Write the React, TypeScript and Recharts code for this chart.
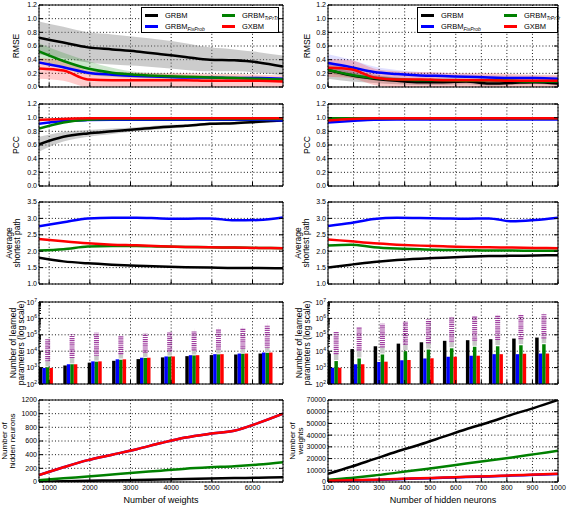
import React from 'react';
import { ComposedChart, Line, Area, Bar, XAxis, YAxis, CartesianGrid, ErrorBar } from 'recharts';

// x positions of the samples
const weightsX = [750, 1350, 1950, 2550, 3150, 3750, 4350, 4950, 5550, 6150, 6750];
const neuronsX = [100, 190, 280, 370, 460, 550, 640, 730, 820, 910, 1000];
// bar group centres
const weightsBarX = [925, 1525, 2125, 2725, 3325, 3925, 4525, 5125, 5725, 6325];
const neuronsBarX = [127, 217, 308, 398, 488, 579, 669, 759, 850, 940];

// ticks
const weightTicks = [1000, 2000, 3000, 4000, 5000, 6000];
const neuronTicks = [100, 200, 300, 400, 500, 600, 700, 800, 900, 1000];
const unitTicks = [0, 0.2, 0.4, 0.6, 0.8, 1.0, 1.2];
const pathTicks = [1.0, 1.5, 2.0, 2.5, 3.0, 3.5];
const logTicks = [1e2, 1e3, 1e4, 1e5, 1e6, 1e7];
const logMinor = [
  200, 300, 400, 500, 600, 700, 800, 900,
  2e3, 3e3, 4e3, 5e3, 6e3, 7e3, 8e3, 9e3,
  2e4, 3e4, 4e4, 5e4, 6e4, 7e4, 8e4, 9e4,
  2e5, 3e5, 4e5, 5e5, 6e5, 7e5, 8e5, 9e5,
  2e6, 3e6, 4e6, 5e6, 6e6, 7e6, 8e6, 9e6,
];
const hiddenTicks = [0, 200, 400, 600, 800, 1000, 1200];
const weightCountTicks = [0, 10000, 20000, 30000, 40000, 50000, 60000, 70000];

// RMSE vs number of weights
const wRmseGrbm = [0.72, 0.65, 0.58, 0.55, 0.52, 0.48, 0.44, 0.40, 0.39, 0.36, 0.30];
const wRmseGrbmBand = [[0.48, 0.96], [0.42, 0.88], [0.36, 0.80], [0.33, 0.77], [0.31, 0.73], [0.28, 0.69], [0.25, 0.64], [0.23, 0.58], [0.23, 0.55], [0.21, 0.51], [0.17, 0.46]];
const wRmseFix = [0.36, 0.29, 0.21, 0.18, 0.16, 0.15, 0.14, 0.14, 0.13, 0.13, 0.12];
const wRmseTr = [0.52, 0.38, 0.27, 0.21, 0.18, 0.16, 0.15, 0.14, 0.13, 0.12, 0.11];
const wRmseTrBand = [[0.40, 0.64], [0.27, 0.50], [0.18, 0.38], [0.15, 0.28], [0.13, 0.22], [0.12, 0.20], [0.11, 0.18], [0.10, 0.17], [0.10, 0.16], [0.09, 0.15], [0.08, 0.14]];
const wRmseGx = [0.27, 0.24, 0.11, 0.10, 0.10, 0.10, 0.10, 0.09, 0.09, 0.09, 0.08];
const wRmseGxBand = [[0.12, 0.42], [0.09, 0.39], [0.0, 0.24], [0.0, 0.22], [0.0, 0.21], [0.0, 0.20], [0.0, 0.20], [0.0, 0.19], [0.0, 0.19], [0.0, 0.18], [0.0, 0.17]];

// RMSE vs number of hidden neurons
const nRmseGrbm = [0.25, 0.17, 0.12, 0.09, 0.07, 0.07, 0.08, 0.05, 0.06, 0.07, 0.05];
const nRmseGrbmBand = [[0.12, 0.38], [0.08, 0.26], [0.06, 0.18], [0.04, 0.14], [0.03, 0.11], [0.03, 0.11], [0.04, 0.12], [0.02, 0.08], [0.03, 0.09], [0.04, 0.10], [0.02, 0.08]];
const nRmseFix = [0.35, 0.29, 0.22, 0.19, 0.17, 0.16, 0.15, 0.14, 0.13, 0.13, 0.12];
const nRmseFixBand = [[0.22, 0.48], [0.19, 0.40], [0.14, 0.30], [0.13, 0.25], [0.12, 0.22], [0.11, 0.21], [0.11, 0.19], [0.10, 0.18], [0.09, 0.17], [0.09, 0.17], [0.08, 0.16]];
const nRmseTr = [0.25, 0.18, 0.13, 0.11, 0.10, 0.10, 0.09, 0.10, 0.09, 0.08, 0.08];
const nRmseTrBand = [[0.20, 0.30], [0.14, 0.22], [0.10, 0.16], [0.08, 0.14], [0.07, 0.13], [0.07, 0.13], [0.06, 0.12], [0.07, 0.13], [0.06, 0.12], [0.05, 0.11], [0.05, 0.11]];
const nRmseGx = [0.28, 0.26, 0.14, 0.11, 0.11, 0.10, 0.10, 0.10, 0.09, 0.09, 0.09];
const nRmseGxBand = [[0.15, 0.41], [0.13, 0.39], [0.03, 0.27], [0.0, 0.23], [0.0, 0.22], [0.0, 0.21], [0.0, 0.20], [0.0, 0.20], [0.0, 0.19], [0.0, 0.18], [0.0, 0.18]];

// PCC
const wPccGrbm = [0.61, 0.72, 0.77, 0.80, 0.83, 0.86, 0.88, 0.91, 0.92, 0.94, 0.96];
const wPccGrbmBand = [[0.50, 0.72], [0.65, 0.79], [0.72, 0.82], [0.76, 0.84], [0.80, 0.86], [0.83, 0.89], [0.86, 0.90], [0.89, 0.93], [0.90, 0.94], [0.92, 0.96], [0.94, 0.98]];
const wPccFix = [0.91, 0.95, 0.965, 0.97, 0.97, 0.97, 0.97, 0.97, 0.97, 0.97, 0.96];
const wPccTr = [0.84, 0.93, 0.97, 0.98, 0.98, 0.98, 0.98, 0.98, 0.98, 0.98, 0.98];
const wPccGx = [0.965, 0.98, 0.99, 0.99, 0.99, 0.99, 0.99, 0.99, 0.99, 0.99, 0.99];
const nPccGrbm = [0.98, 0.985, 0.99, 0.99, 0.99, 0.99, 0.99, 0.99, 0.99, 0.99, 0.99];
const nPccFix = [0.93, 0.95, 0.97, 0.975, 0.975, 0.975, 0.975, 0.975, 0.975, 0.975, 0.975];
const nPccTr = [0.99, 0.99, 0.99, 0.99, 0.99, 0.99, 0.99, 0.99, 0.99, 0.99, 0.99];
const nPccGx = [0.96, 0.98, 0.99, 0.99, 0.99, 0.99, 0.99, 0.99, 0.99, 0.99, 0.99];

// average shortest path
const wAspGrbm = [1.80, 1.69, 1.63, 1.59, 1.56, 1.53, 1.51, 1.50, 1.49, 1.49, 1.48];
const wAspFix = [2.76, 2.88, 3.0, 3.02, 3.02, 3.0, 2.99, 3.0, 2.94, 2.95, 3.03];
const wAspTr = [2.02, 2.06, 2.14, 2.16, 2.16, 2.14, 2.13, 2.12, 2.11, 2.10, 2.09];
const wAspGx = [2.37, 2.30, 2.24, 2.20, 2.18, 2.15, 2.13, 2.12, 2.11, 2.10, 2.09];
const nAspGrbm = [1.50, 1.59, 1.67, 1.73, 1.77, 1.80, 1.83, 1.85, 1.86, 1.87, 1.88];
const nAspFix = [2.77, 2.86, 2.98, 3.02, 3.01, 3.0, 2.99, 3.0, 2.91, 2.95, 3.02];
const nAspTr = [2.17, 2.20, 2.12, 2.08, 2.06, 2.04, 2.03, 2.02, 2.02, 2.01, 2.01];
const nAspGx = [2.36, 2.30, 2.24, 2.20, 2.17, 2.15, 2.13, 2.12, 2.11, 2.10, 2.09];

// learned parameters (bars), fixed number of weights
const wParGrbm = [1000, 1350, 2000, 2600, 3300, 4200, 5000, 5800, 6300, 7200];
const wParFix = [950, 1600, 2400, 3200, 4000, 4800, 5700, 6600, 7200, 8300];
const wParTr = [1050, 1600, 2300, 3000, 3900, 4700, 5500, 6400, 7000, 8000];
const wParGx = [950, 1600, 2400, 3200, 4000, 4800, 5700, 6600, 7200, 8300];
const wParGrayLo = [1200, 1800, 2700, 3600, 4500, 5400, 6300, 7300, 8000, 9200];
const wParDenseLo = [2400, 3800, 5200, 6500, 8000, 9500, 11000, 12500, 14000, 16000];
const wParDenseHi = [59000, 105000, 138000, 95000, 115000, 145000, 173000, 210000, 265000, 380000];

// learned parameters (bars), fixed number of hidden neurons
const nParGrbm = [7200, 13500, 20000, 29000, 35000, 43000, 47000, 54000, 59000, 68000];
const nParFix = [980, 1600, 2200, 2800, 3600, 4600, 5300, 6600, 6600, 7200];
const nParTr = [2500, 3600, 6300, 10000, 12600, 15000, 18600, 20000, 23000, 27000];
const nParGx = [980, 1600, 2300, 2900, 3700, 4600, 5300, 6600, 7000, 7200];
const nParGrayLo = [2900, 4200, 7300, 11500, 14500, 17500, 21500, 23500, 27000, 31000];
const nParDenseLo = [6500, 11000, 17000, 25000, 31000, 38000, 43000, 48000, 53000, 60000];
const nParDenseHi = [166000, 300000, 480000, 670000, 850000, 1200000, 1350000, 1500000, 1700000, 1800000];

// hidden neurons vs weights, weights vs hidden neurons
const wHidGrbm = [5, 11, 17, 23, 30, 36, 43, 50, 57, 64, 70];
const wHidFix = [100, 215, 320, 400, 480, 570, 650, 705, 750, 865, 1000];
const wHidTr = [25, 55, 80, 110, 140, 165, 195, 215, 230, 255, 290];
const wHidGx = [100, 215, 320, 400, 480, 570, 650, 705, 750, 865, 1000];
const nWGrbm = [7000, 13000, 19500, 26000, 32000, 38500, 45000, 51000, 57500, 63500, 70000];
const nWFix = [800, 1300, 1800, 2400, 3000, 3600, 4200, 4800, 5500, 6100, 6800];
const nWTr = [2000, 3500, 5500, 8000, 10500, 13000, 15700, 18300, 21000, 23800, 26600];
const nWGx = [1000, 1500, 2000, 2600, 3200, 3800, 4400, 5000, 5700, 6300, 7000];

const K = '#000000';
const B = '#0000ff';
const G = '#008000';
const R = '#ff0000';
const FONT = "'Liberation Sans', Arial, Helvetica, sans-serif";

const PLOT_H = 82;
const ROW_TOP = [5, 104, 202, 302, 400];
const COLS = [{ x: 39, w: 244 }, { x: 328, w: 230 }];
const AXIS_W = 40;
const PAD_T = 5;
const PAD_R = 10;

const table = (xs: number[], cols: Record<string, unknown[]>) =>
  xs.map((x, i) => {
    const r: Record<string, unknown> = { x };
    Object.keys(cols).forEach((k) => (r[k] = cols[k][i]));
    return r;
  });

const curve = (key: string, color: string) => (
  <Line key={key} dataKey={key} type="monotone" stroke={color} strokeWidth={2.5} dot={false} activeDot={false} isAnimationActive={false} />
);
const band = (key: string, color: string, op: number) => (
  <Area key={key} dataKey={key} type="monotone" stroke="none" fill={color} fillOpacity={op} dot={false} activeDot={false} isAnimationActive={false} />
);

// tick labels hidden, tick marks (and grid lines) kept
const NoLabel = () => <g />;

const PowTick = (p: any) => (
  <text x={p.x} y={p.y} dy={2.5} textAnchor="end" fontSize={7} fill="#000">
    10<tspan dy={-3} fontSize={5}>{Math.round(Math.log10(p.payload.value))}</tspan>
  </text>
);

type PanelProps = {
  col: number;
  row: number;
  data: Record<string, unknown>[];
  xDomain: [number, number];
  xTicks: number[];
  yDomain: [number, number];
  yTicks: number[];
  yFmt?: (v: number) => string;
  log?: boolean;
  showX?: boolean;
  children: React.ReactNode;
};

function Panel({ col, row, data, xDomain, xTicks, yDomain, yTicks, yFmt, log, showX, children }: PanelProps) {
  const c = COLS[col];
  // axes need a non-zero size to be drawn
  const xh = showX ? 16 : 1;
  const padB = showX ? 6 : 5;
  return (
    <div style={{ position: 'absolute', left: c.x - AXIS_W, top: ROW_TOP[row] - PAD_T }}>
      <ComposedChart
        width={AXIS_W + c.w + PAD_R}
        height={PAD_T + PLOT_H + xh + padB}
        data={data}
        margin={{ top: PAD_T - 1, right: PAD_R - 1, bottom: padB, left: 0 }}
        barGap={0}
        barSize={3.5}
      >
        <CartesianGrid stroke="#000" strokeWidth={0.9} strokeDasharray="1 2.2" />
        <XAxis dataKey="x" type="number" domain={xDomain} ticks={xTicks} interval={0} allowDataOverflow
          height={xh} tick={showX ? { fontSize: 7, fill: '#000' } : NoLabel} tickSize={-4} tickMargin={7} stroke="#000" />
        <XAxis xAxisId="t" orientation="top" type="number" domain={xDomain} ticks={xTicks} interval={0} allowDataOverflow
          height={1} tick={NoLabel} tickSize={-4} stroke="#000" />
        {log && (
          <YAxis yAxisId="mn" type="number" scale="log" domain={yDomain} ticks={logMinor} interval={0} allowDataOverflow
            mirror width={1} tick={NoLabel} tickSize={2} axisLine={false} stroke="#000" />
        )}
        <YAxis type="number" scale={log ? 'log' : 'linear'} domain={yDomain} ticks={yTicks} interval={0} allowDataOverflow
          width={AXIS_W} tick={log ? PowTick : { fontSize: 7, fill: '#000' }} tickFormatter={yFmt} tickSize={-4} tickMargin={6} stroke="#000" />
        <YAxis yAxisId="r" orientation="right" type="number" scale={log ? 'log' : 'linear'} domain={yDomain} ticks={yTicks}
          interval={0} allowDataOverflow width={1} tick={NoLabel} tickSize={-4} stroke="#000" />
        {children}
      </ComposedChart>
    </div>
  );
}

const lineSet = () => [curve('k', K), curve('b', B), curve('g', G), curve('r', R)];

const barSet = () => {
  const grayErr = (d: any) => {
    const p = d.payload ?? d;
    return [p.g - p.gl, p.pl - p.g];
  };
  const denseErr = (d: any) => {
    const p = d.payload ?? d;
    return [p.g - p.pl, p.ph - p.g];
  };
  return [
    <Bar key="k" dataKey="k" fill={K} isAnimationActive={false} />,
    <Bar key="b" dataKey="b" fill={B} isAnimationActive={false} />,
    <Bar key="g" dataKey="g" fill={G} isAnimationActive={false}>
      <ErrorBar dataKey={grayErr} direction="y" width={0} stroke="#c8c8c8" strokeWidth={4.5} isAnimationActive={false} />
      <ErrorBar dataKey={denseErr} direction="y" width={0} stroke="#800080" strokeOpacity={0.75} strokeWidth={5}
        strokeDasharray="1.2 0.9" isAnimationActive={false} />
    </Bar>,
    <Bar key="r" dataKey="r" fill={R} isAnimationActive={false} />,
  ];
};

const fmt1 = (v: number) => v.toFixed(1);
const fmt0 = (v: number) => String(v);

function YTitle({ x, y, lines, size = 8.5 }: { x: number; y: number; lines: string[]; size?: number }) {
  return (
    <div style={{
      position: 'absolute', left: x, top: y, transform: 'translate(-50%, -50%) rotate(-90deg)',
      whiteSpace: 'nowrap', textAlign: 'center', fontSize: size, lineHeight: '8px',
    }}>
      {lines.map((l) => <div key={l}>{l}</div>)}
    </div>
  );
}

const legendItems = [
  { label: 'GRBM', sub: '', color: K },
  { label: 'GRBM', sub: 'FixProb', color: B },
  { label: 'GRBM', sub: 'TrPrTr', color: G },
  { label: 'GXBM', sub: '', color: R },
];

function LegendBox({ left, width, colX }: { left: number; width: number; colX: number }) {
  return (
    <div style={{ position: 'absolute', left, top: 7, width, height: 26, border: '1px solid #000', background: '#fff', boxSizing: 'border-box' }}>
      {legendItems.map((it, i) => {
        const cx = i < 2 ? 3 : colX;
        const cy = i % 2 === 0 ? 7.5 : 18.5;
        return (
          <React.Fragment key={i}>
            <div style={{ position: 'absolute', left: cx, top: cy - 1.25, width: 13, height: 2.5, background: it.color }} />
            <div style={{ position: 'absolute', left: cx + 20, top: cy - 5, fontSize: 7.5, lineHeight: '10px', whiteSpace: 'nowrap' }}>
              {it.label}
              {it.sub && <span style={{ fontSize: 5, fontStyle: 'italic', verticalAlign: '-2px' }}>{it.sub}</span>}
            </div>
          </React.Fragment>
        );
      })}
    </div>
  );
}

export default function App() {
  const wDom: [number, number] = [750, 6750];
  const nDom: [number, number] = [100, 1000];
  const rmseW = table(weightsX, { k: wRmseGrbm, kb: wRmseGrbmBand, b: wRmseFix, g: wRmseTr, gb: wRmseTrBand, r: wRmseGx, rb: wRmseGxBand });
  const rmseN = table(neuronsX, { k: nRmseGrbm, kb: nRmseGrbmBand, b: nRmseFix, bb: nRmseFixBand, g: nRmseTr, gb: nRmseTrBand, r: nRmseGx, rb: nRmseGxBand });
  const pccW = table(weightsX, { k: wPccGrbm, kb: wPccGrbmBand, b: wPccFix, g: wPccTr, r: wPccGx });
  const pccN = table(neuronsX, { k: nPccGrbm, b: nPccFix, g: nPccTr, r: nPccGx });
  const aspW = table(weightsX, { k: wAspGrbm, b: wAspFix, g: wAspTr, r: wAspGx });
  const aspN = table(neuronsX, { k: nAspGrbm, b: nAspFix, g: nAspTr, r: nAspGx });
  const parW = table(weightsBarX, { k: wParGrbm, b: wParFix, g: wParTr, r: wParGx, gl: wParGrayLo, pl: wParDenseLo, ph: wParDenseHi });
  const parN = table(neuronsBarX, { k: nParGrbm, b: nParFix, g: nParTr, r: nParGx, gl: nParGrayLo, pl: nParDenseLo, ph: nParDenseHi });
  const hidW = table(weightsX, { k: wHidGrbm, b: wHidFix, g: wHidTr, r: wHidGx });
  const wN = table(neuronsX, { k: nWGrbm, b: nWFix, g: nWTr, r: nWGx });

  return (
    <div style={{ position: 'absolute', left: 0, top: 0, width: 568, height: 506, background: '#fff', fontFamily: FONT, color: '#000', overflow: 'hidden' }}>
      <Panel col={0} row={0} data={rmseW} xDomain={wDom} xTicks={weightTicks} yDomain={[0, 1.2]} yTicks={unitTicks} yFmt={fmt1}>
        {[band('kb', '#808080', 0.4), band('gb', G, 0.2), band('rb', R, 0.2), ...lineSet()]}
      </Panel>
      <Panel col={1} row={0} data={rmseN} xDomain={nDom} xTicks={neuronTicks} yDomain={[0, 1.2]} yTicks={unitTicks} yFmt={fmt1}>
        {[band('kb', '#808080', 0.4), band('gb', G, 0.2), band('bb', B, 0.12), band('rb', R, 0.2), ...lineSet()]}
      </Panel>
      <Panel col={0} row={1} data={pccW} xDomain={wDom} xTicks={weightTicks} yDomain={[0, 1.2]} yTicks={unitTicks} yFmt={fmt1}>
        {[band('kb', '#808080', 0.4), ...lineSet()]}
      </Panel>
      <Panel col={1} row={1} data={pccN} xDomain={nDom} xTicks={neuronTicks} yDomain={[0, 1.2]} yTicks={unitTicks} yFmt={fmt1}>
        {lineSet()}
      </Panel>
      <Panel col={0} row={2} data={aspW} xDomain={wDom} xTicks={weightTicks} yDomain={[1, 3.5]} yTicks={pathTicks} yFmt={fmt1}>
        {lineSet()}
      </Panel>
      <Panel col={1} row={2} data={aspN} xDomain={nDom} xTicks={neuronTicks} yDomain={[1, 3.5]} yTicks={pathTicks} yFmt={fmt1}>
        {lineSet()}
      </Panel>
      <Panel col={0} row={3} data={parW} xDomain={wDom} xTicks={weightTicks} yDomain={[1e2, 1e7]} yTicks={logTicks} log>
        {barSet()}
      </Panel>
      <Panel col={1} row={3} data={parN} xDomain={nDom} xTicks={neuronTicks} yDomain={[1e2, 1e7]} yTicks={logTicks} log>
        {barSet()}
      </Panel>
      <Panel col={0} row={4} data={hidW} xDomain={wDom} xTicks={weightTicks} yDomain={[0, 1200]} yTicks={hiddenTicks} yFmt={fmt0} showX>
        {lineSet()}
      </Panel>
      <Panel col={1} row={4} data={wN} xDomain={nDom} xTicks={neuronTicks} yDomain={[0, 70000]} yTicks={weightCountTicks} yFmt={fmt0} showX>
        {lineSet()}
      </Panel>

      <LegendBox left={141} width={138} colX={80} />
      <LegendBox left={417} width={141} colX={86} />

      <YTitle x={16} y={46} lines={['RMSE']} />
      <YTitle x={306.5} y={46} lines={['RMSE']} />
      <YTitle x={16} y={145} lines={['PCC']} />
      <YTitle x={306.5} y={145} lines={['PCC']} />
      <YTitle x={12.5} y={243} lines={['Average', 'shortest path']} />
      <YTitle x={301.5} y={243} lines={['Average', 'shortest path']} />
      <YTitle x={16.5} y={343} lines={['Number of learned', 'parameters (log scale)']} />
      <YTitle x={302.5} y={343} lines={['Number of learned', 'parameters (log scale)']} />
      <YTitle x={9} y={441} lines={['Number of', 'hidden neurons']} size={8} />
      <YTitle x={297} y={441} lines={['Number of', 'weights']} size={8} />

      <div style={{ position: 'absolute', left: 161, top: 500, transform: 'translate(-50%, -50%)', fontSize: 9, whiteSpace: 'nowrap' }}>Number of weights</div>
      <div style={{ position: 'absolute', left: 443, top: 500, transform: 'translate(-50%, -50%)', fontSize: 9, whiteSpace: 'nowrap' }}>Number of hidden neurons</div>
    </div>
  );
}
